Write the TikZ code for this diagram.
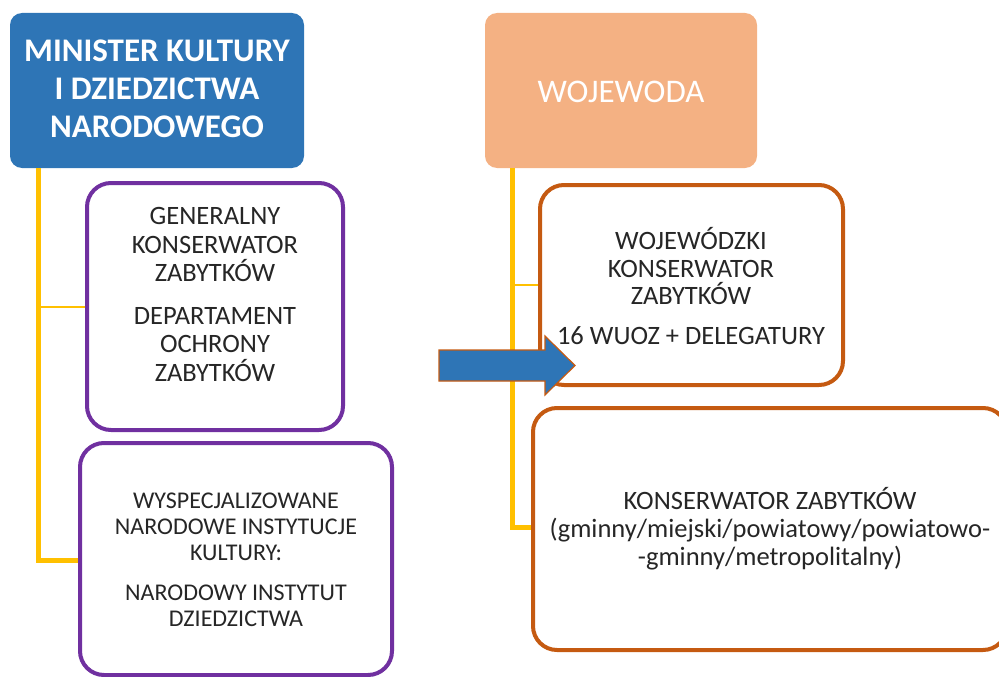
\documentclass[tikz,border=0pt]{standalone}
\usepackage{fontspec}
\setmainfont{Carlito}
\definecolor{minblue}{HTML}{2E75B6}
\definecolor{salmon}{HTML}{F4B183}
\definecolor{linkyellow}{HTML}{FFC000}
\definecolor{boxpurple}{HTML}{7030A0}
\definecolor{boxorange}{HTML}{C55A11}
\definecolor{txt}{HTML}{262626}
\tikzset{
  headbox/.style={draw=none, rounded corners=12pt, inner sep=0pt},
  purplebox/.style={draw=boxpurple, line width=4pt, fill=white, rounded corners=24pt, inner sep=0pt},
  orangebox/.style={draw=boxorange, line width=4pt, fill=white, rounded corners=24pt, inner sep=0pt},
  thickline/.style={draw=linkyellow, line width=5pt},
  thinline/.style={draw=linkyellow, line width=1.5pt},
  bodytext/.style={text=txt, align=center, font=\fontsize{26.5}{28.5}\selectfont, inner sep=0pt},
  titletext/.style={text=white, align=center, inner sep=0pt},
}
\begin{document}
\begin{tikzpicture}[x=1pt,y=-1pt]
\useasboundingbox (0,0) rectangle (999,677);
\clip (0,0) rectangle (999,677);
% head boxes
\node[headbox, fill=minblue, minimum width=294pt, minimum height=155pt] (min) at (157,90.5) {};
\node[titletext, font=\bfseries\fontsize{33}{38}\selectfont] (mintxt) at (157,89) {MINISTER KULTURY\\I DZIEDZICTWA\\NARODOWEGO};
\node[headbox, fill=salmon, minimum width=272pt, minimum height=155pt] (woj) at (621,90.5) {};
\node[titletext, font=\fontsize{33}{38}\selectfont] (wojtxt) at (621,92) {WOJEWODA};
% connector corners
\coordinate (lc1) at (38,307);
\coordinate (lc2) at (38,560);
\coordinate (rc1) at (512,285);
\coordinate (rc2) at (512,527);
\coordinate (ltop) at (38,168);
\coordinate (rtop) at (512,168);
% connectors
\draw[thickline] (ltop) -- (lc2) -- (82,560);
\draw[thinline] (lc1) -- (88,307);
\draw[thickline] (rtop) -- (rc2) -- (535,527);
\draw[thinline] (rc1) -- (541,285);
% boxes
\node[purplebox, minimum width=256pt, minimum height=247pt] (gkz) at (215,306.5) {};
\node[bodytext] (gkztxt) at (215,294.5) {GENERALNY\\KONSERWATOR\\ZABYTKÓW\\[14pt]DEPARTAMENT\\OCHRONY\\ZABYTKÓW};
\node[purplebox, minimum width=312pt, minimum height=232pt] (nid) at (236,559) {};
\node[bodytext, font=\fontsize{24}{26}\selectfont] (nidtxt) at (236,560) {WYSPECJALIZOWANE\\NARODOWE INSTYTUCJE\\KULTURY:\\[14pt]NARODOWY INSTYTUT\\DZIEDZICTWA};
\node[orangebox, minimum width=303pt, minimum height=200pt] (wkz) at (691.5,285) {};
\node[bodytext, font=\fontsize{26.5}{27.5}\selectfont] (wkztxt) at (691,286) {WOJEWÓDZKI\\KONSERWATOR\\ZABYTKÓW\\[12pt]16 WUOZ + DELEGATURY};
\node[orangebox, minimum width=474pt, minimum height=242pt] (gkz2) at (770,529) {};
\node[bodytext, font=\fontsize{26.5}{28}\selectfont] (gkz2txt) at (770,529) {KONSERWATOR ZABYTKÓW\\(gminny/miejski/powiatowy/powiatowo-\\-gminny/metropolitalny)};
% blue arrow
\coordinate (arrowtail) at (439,365.5);
\coordinate (arrowtip) at (575,365.5);
\fill[minblue, draw=boxorange, line width=1.2pt]
  (arrowtail) ++(0,-15.5) -- (545,350) -- (545,336) -- (arrowtip) -- (545,395) -- (545,381) -- (439,381) -- cycle;
\end{tikzpicture}
\end{document}
